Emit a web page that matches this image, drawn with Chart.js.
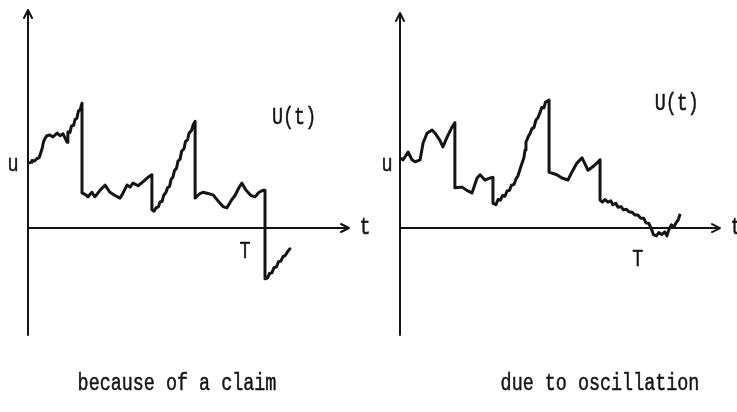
<!DOCTYPE html>
<html>
<head>
<meta charset="utf-8">
<script src="https://cdn.jsdelivr.net/npm/chart.js@4.4.1/dist/chart.umd.min.js"></script>
<style>
  html, body { margin: 0; padding: 0; background: #ffffff; }
  #wrap { position: relative; width: 737px; height: 412px; overflow: hidden; }
  canvas { position: absolute; top: 0; }
  #left { left: 0; }
  #right { left: 370px; }
</style>
</head>
<body>
<div id="wrap">
  <canvas id="left" width="370" height="412"></canvas>
  <canvas id="right" width="367" height="412"></canvas>
</div>
<script>
// Surplus process U(t): ruin caused by a claim (jump below zero)
const claimT = [0.00, 0.10, 0.13, 0.22, 0.30, 0.37, 0.42, 0.47, 0.52, 0.57, 0.63, 0.73, 0.83, 0.97, 1.07, 1.17, 1.30,
  1.33, 1.40, 1.45, 1.52, 1.57, 1.63, 1.68, 1.74, 1.80,
  1.80, 1.93, 2.00, 2.13, 2.23, 2.40, 2.57, 2.73, 2.90, 3.07, 3.17, 3.30, 3.40, 3.50, 3.67, 3.83, 4.00, 4.13,
  4.13, 4.20, 4.27, 4.35, 4.40, 4.47, 4.52, 4.60, 4.65, 4.72, 4.77, 4.83, 4.88, 4.95, 5.00, 5.07, 5.12, 5.20,
  5.25, 5.32, 5.37, 5.45, 5.50, 5.57,
  5.57, 5.70, 5.83, 6.00, 6.17, 6.33, 6.50, 6.63, 6.77, 6.90, 7.03, 7.13, 7.27, 7.43, 7.57, 7.70, 7.83, 7.90,
  7.90, 7.98, 8.05, 8.13, 8.20, 8.28, 8.35, 8.43, 8.50, 8.58, 8.66, 8.73];
const claimU = [1.00, 1.01, 1.04, 1.03, 1.07, 1.08, 1.15, 1.22, 1.33, 1.38, 1.42, 1.43, 1.40, 1.46, 1.42, 1.45, 1.32,
  1.48, 1.47, 1.57, 1.58, 1.67, 1.69, 1.80, 1.82, 1.92,
  0.54, 0.51, 0.48, 0.55, 0.48, 0.58, 0.66, 0.55, 0.50, 0.46, 0.54, 0.66, 0.63, 0.69, 0.65, 0.71, 0.78, 0.82,
  0.28, 0.26, 0.31, 0.33, 0.40, 0.41, 0.50, 0.55, 0.62, 0.64, 0.75, 0.78, 0.88, 0.92, 1.03, 1.06, 1.18, 1.22,
  1.33, 1.36, 1.46, 1.50, 1.58, 1.64,
  0.46, 0.52, 0.55, 0.53, 0.51, 0.42, 0.33, 0.31, 0.42, 0.50, 0.62, 0.69, 0.58, 0.50, 0.48, 0.55, 0.58, 0.58,
  -0.78, -0.77, -0.70, -0.69, -0.61, -0.60, -0.52, -0.51, -0.44, -0.42, -0.36, -0.32];

// Surplus process U(t): ruin caused by oscillation (creeping through zero)
const oscT = [0.00, 0.10, 0.27, 0.40, 0.50, 0.67, 0.77, 0.90, 1.07, 1.17, 1.33, 1.43, 1.57, 1.73, 1.83,
  1.83, 2.07, 2.23, 2.40, 2.57, 2.67, 2.83, 3.00, 3.10,
  3.10, 3.20, 3.27, 3.35, 3.42, 3.50, 3.57, 3.65, 3.72, 3.80, 3.87, 3.93, 4.00, 4.07, 4.13, 4.17, 4.20, 4.27,
  4.33, 4.40, 4.47, 4.53, 4.60, 4.67, 4.73, 4.80, 4.85, 4.97,
  4.97, 5.23, 5.40, 5.60, 5.73, 5.90, 6.07, 6.27, 6.50, 6.67,
  6.67, 6.75, 6.83, 6.93, 7.03, 7.10, 7.20, 7.27, 7.37, 7.45, 7.55, 7.63, 7.75, 7.83, 7.93, 8.03, 8.13, 8.20,
  8.30, 8.37, 8.45, 8.55, 8.63, 8.73, 8.83, 8.90, 8.97, 9.05, 9.13, 9.20, 9.27, 9.33];
const oscU = [1.08, 1.05, 1.17, 1.05, 1.02, 1.05, 1.31, 1.46, 1.51, 1.46, 1.35, 1.25, 1.40, 1.55, 1.62,
  0.62, 0.63, 0.58, 0.54, 0.77, 0.82, 0.74, 0.77, 0.78,
  0.38, 0.36, 0.44, 0.43, 0.50, 0.49, 0.57, 0.58, 0.66, 0.67, 0.76, 0.80, 0.90, 1.00, 1.08, 1.20, 1.32, 1.40,
  1.45, 1.53, 1.55, 1.66, 1.70, 1.78, 1.86, 1.85, 1.94, 1.97,
  0.86, 0.82, 0.77, 0.74, 0.86, 1.00, 1.08, 0.89, 0.97, 1.05,
  0.43, 0.40, 0.44, 0.40, 0.42, 0.36, 0.38, 0.32, 0.33, 0.28, 0.29, 0.25, 0.24, 0.20, 0.20, 0.15, 0.15, 0.08,
  0.07, 0.00, -0.10, -0.12, -0.07, -0.10, -0.06, -0.12, -0.02, 0.05, 0.01, 0.08, 0.12, 0.20];

// Text labels placed in data units: [text, t, U]
const claimLabels = [["U(t)", 8.87, 1.69], ["T", 7.23, -0.37]];
const oscLabels = [["U(t)", 9.23, 1.91], ["T", 7.93, -0.49]];
const captions = ["because of a claim", "due to oscillation"];
const initialCapital = 1.0;

const INK = '#141414';
const FONT = '23px "Liberation Mono", "DejaVu Sans Mono", monospace';

function toPoints(ts, us) {
  return ts.map((t, i) => ({ x: t, y: us[i] }));
}

function drawText(ctx, text, x, y, align) {
  ctx.save();
  ctx.translate(x, y);
  ctx.scale(0.8, 1);
  ctx.font = FONT;
  ctx.fillStyle = INK;
  ctx.strokeStyle = INK;
  ctx.lineWidth = 0.5;
  ctx.textAlign = align || 'center';
  ctx.textBaseline = 'middle';
  ctx.fillText(text, 0, 0);
  ctx.strokeText(text, 0, 0);
  ctx.restore();
}

// Axes with open arrowheads, drawn through the origin of the scales
const arrowAxes = {
  id: 'arrowAxes',
  beforeDatasetsDraw(chart) {
    const { ctx, chartArea, scales } = chart;
    const x0 = scales.x.getPixelForValue(0);
    const y0 = scales.y.getPixelForValue(0);
    ctx.save();
    ctx.strokeStyle = INK;
    ctx.lineWidth = 2;
    ctx.lineCap = 'round';
    ctx.lineJoin = 'round';
    ctx.beginPath();
    // vertical axis
    ctx.moveTo(x0, chartArea.bottom);
    ctx.lineTo(x0, chartArea.top);
    ctx.moveTo(x0 - 4, chartArea.top + 8);
    ctx.lineTo(x0, chartArea.top);
    ctx.lineTo(x0 + 4, chartArea.top + 8);
    // horizontal axis
    ctx.moveTo(x0, y0);
    ctx.lineTo(chartArea.right, y0);
    ctx.moveTo(chartArea.right - 8, y0 - 4);
    ctx.lineTo(chartArea.right, y0);
    ctx.lineTo(chartArea.right - 8, y0 + 4);
    ctx.stroke();
    ctx.restore();
  },
  afterDraw(chart, args, opts) {
    const { ctx, chartArea, scales } = chart;
    const x0 = scales.x.getPixelForValue(0);
    const y0 = scales.y.getPixelForValue(0);
    drawText(ctx, 'u', x0 - opts.uGap, scales.y.getPixelForValue(initialCapital) + 2);
    drawText(ctx, 't', chartArea.right + 16, y0);
    opts.labels.forEach(([txt, t, u]) => {
      drawText(ctx, txt, scales.x.getPixelForValue(t), scales.y.getPixelForValue(u));
    });
    drawText(ctx, opts.caption, opts.captionX, 384);
  }
};

function makePanel(canvasId, ts, us, cfg) {
  new Chart(document.getElementById(canvasId), {
    type: 'scatter',
    data: {
      datasets: [{
        data: toPoints(ts, us),
        showLine: true,
        borderColor: INK,
        borderWidth: 3,
        pointRadius: 0,
        tension: 0,
        borderJoinStyle: 'round',
        borderCapStyle: 'round'
      }]
    },
    options: {
      responsive: false,
      animation: false,
      events: [],
      layout: { padding: cfg.padding },
      scales: {
        x: { type: 'linear', min: 0, max: cfg.xMax, display: false },
        y: { type: 'linear', min: cfg.yMin, max: cfg.yMax, display: false }
      },
      plugins: {
        legend: { display: false },
        tooltip: { enabled: false },
        arrowAxes: {
          labels: cfg.labels,
          caption: cfg.caption,
          captionX: cfg.captionX,
          uGap: cfg.uGap
        }
      }
    },
    plugins: [arrowAxes]
  });
}

makePanel('left', claimT, claimU, {
  padding: { left: 28, right: 21, top: 10, bottom: 77 },
  xMax: 10.7, yMin: -1.646, yMax: 3.354,
  labels: claimLabels, caption: captions[0], captionX: 177, uGap: 15
});

makePanel('right', oscT, oscU, {
  padding: { left: 30, right: 17, top: 13, bottom: 77 },
  xMax: 10.67, yMin: -1.646, yMax: 3.31,
  labels: oscLabels, caption: captions[1], captionX: 230, uGap: 13
});
</script>
</body>
</html>
